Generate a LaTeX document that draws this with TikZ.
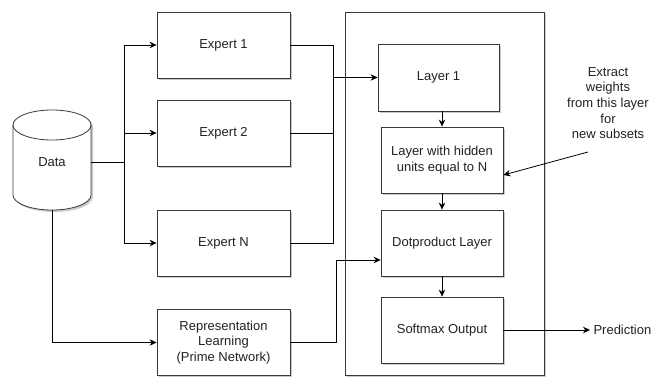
\documentclass[tikz,border=0pt]{standalone}
\usepackage{fontspec}
\setmainfont{Liberation Sans}
\usetikzlibrary{arrows.meta,shadows}
\definecolor{edge}{HTML}{36393D}
\definecolor{ink}{HTML}{222222}
\begin{document}
\begin{tikzpicture}[x=1pt,y=1pt,
  font=\fontsize{13}{15.7}\selectfont, text=ink,
  box/.style={draw=edge, line width=0.8pt, fill=white, align=center,
    inner sep=0pt,
    drop shadow={shadow xshift=2pt, shadow yshift=-2pt, fill=black!35, opacity=0.6}},
  wire/.style={draw=black, line width=0.8pt},
  arr/.style={wire, -{Stealth[length=7pt,width=6.5pt]}}]
\useasboundingbox (0,0) rectangle (653,377);

% outer frame of the prime network
\node[box, minimum width=199pt, minimum height=363pt] (frame) at (444.5,183.5) {};

% data store (cylinder)
\fill[black!35, opacity=0.6] (15,250) -- (15,180) arc (180:360:39 and 15) -- (93,250) arc (0:180:39 and 15) -- cycle;
\filldraw[draw=edge, fill=white, line width=0.8pt]
  (13,252) -- (13,182) arc (180:360:39 and 15) -- (91,252) arc (0:180:39 and 15) -- cycle;
\draw[draw=edge, line width=0.8pt] (13,252) arc (180:360:39 and 15);
\node (data) at (52,215) {Data};
\coordinate (dataR) at (91,215);
\coordinate (dataB) at (52,167);

% experts
\node[box, minimum width=133pt, minimum height=66pt] (e1) at (223.5,332) {Expert 1};
\node[box, minimum width=133pt, minimum height=66pt] (e2) at (223.5,244) {Expert 2};
\node[box, minimum width=133pt, minimum height=66pt] (en) at (223.5,134) {Expert N};
\node[box, minimum width=133pt, minimum height=66pt] (rl) at (223.5,34.5)
  {Representation\\Learning\\(Prime Network)};

% layers
\node[box, minimum width=121pt, minimum height=67pt] (l1) at (438.5,299.5) {Layer 1};
\node[box, minimum width=122pt, minimum height=66pt] (hid) at (442,217)
  {Layer with hidden\\units equal to N};
\node[box, minimum width=122pt, minimum height=66pt] (dot) at (442,134) {Dotproduct Layer};
\node[box, minimum width=122pt, minimum height=66pt] (soft) at (442,47) {Softmax Output};

\node[align=center] (note) at (608,274)
  {Extract\\weights\\from this layer\\for\\new subsets};
\node[anchor=west] (pred) at (590,47) {Prediction};

% data fan-out to the experts
\coordinate (split) at (124,215);
\draw[wire] (dataR) -- (split);
\draw[arr] (split) |- (e1.west);
\draw[arr] (split) |- (e2.west);
\draw[arr] (split) |- (en.west);
\draw[arr] (dataB) |- (rl.west);

% experts merge into layer 1
\coordinate (merge) at (333,299.5);
\draw[wire] (e1.east) -| (merge);
\draw[wire] (en.east) -| (merge);
\draw[wire] (e2.east) -- (e2.east -| merge);
\draw[arr] (merge) -- (l1.west);

% prime network into the dot product
\coordinate (bend) at (336,117);
\draw[arr] (rl.east) -| (bend) -- (bend -| dot.west);

% stack of layers
\draw[arr] (l1.south -| hid) -- (hid.north);
\draw[arr] (hid) -- (dot);
\draw[arr] (dot) -- (soft);
\draw[arr] (soft.east) -- (pred.west);

% annotation pointer
\coordinate (tip) at (588,225);
\draw[arr] (tip) -- (hid.east |- 0,202);
\end{tikzpicture}
\end{document}
